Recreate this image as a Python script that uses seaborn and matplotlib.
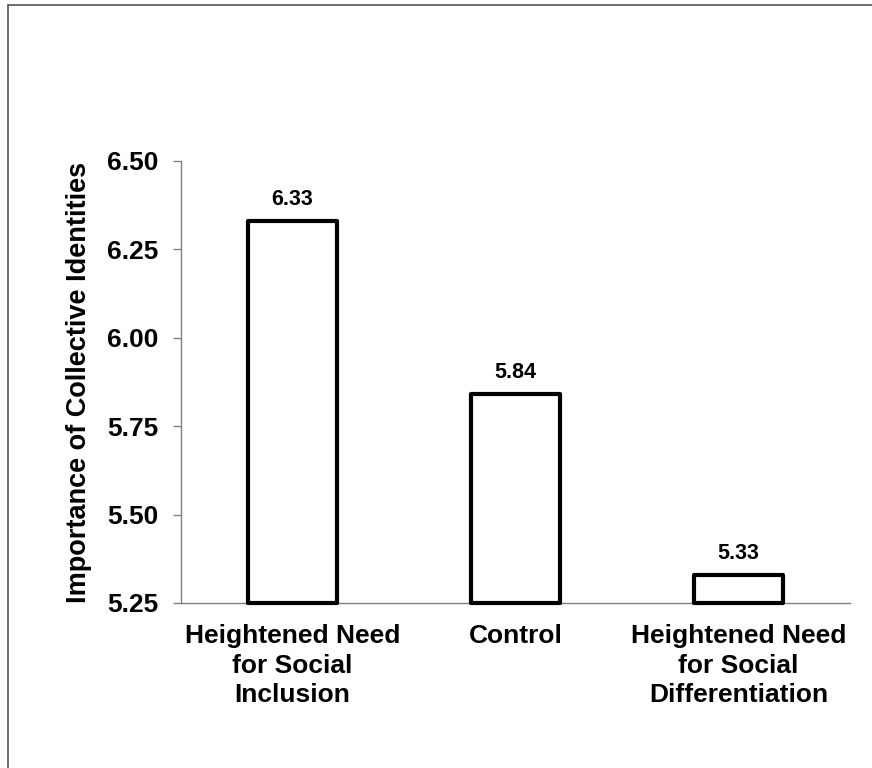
import matplotlib
matplotlib.use("Agg")
import matplotlib.pyplot as plt
import seaborn as sns
import pandas as pd
from matplotlib.lines import Line2D
from matplotlib.ticker import FixedLocator

# data
conditions = ["Heightened Need\nfor Social\nInclusion", "Control",
              "Heightened Need\nfor Social\nDifferentiation"]
means = [6.33, 5.84, 5.33]
y_ticks = [5.25, 5.50, 5.75, 6.00, 6.25, 6.50]
y_label = "Importance of Collective Identities"

sns.set_style("white")
plt.rcParams['font.family'] = ['Liberation Sans', 'DejaVu Sans']
plt.rcParams['font.weight'] = 'bold'
plt.rcParams['text.color'] = 'black'
plt.rcParams['axes.labelcolor'] = 'black'
plt.rcParams['xtick.labelcolor'] = 'black'
plt.rcParams['ytick.labelcolor'] = 'black'

df = pd.DataFrame({'condition': conditions, 'mean': means})

fig = plt.figure(figsize=(8.72, 7.68), dpi=100)
ax = fig.add_axes([181/872, 1 - 603/768, (850 - 181)/872, (603 - 161)/768])

sns.barplot(x='condition', y='mean', data=df, ax=ax, color='white',
            edgecolor='black', linewidth=3, width=0.4, zorder=3)
for p in ax.patches:
    p.set_joinstyle('round')
    # bars start at the bottom of the axis, not at 0
    p.set_y(y_ticks[0])
    p.set_height(p.get_height() - y_ticks[0])
    p.set_clip_on(False)

for i, m in enumerate(means):
    ax.annotate(f"{m:.2f}", (i, m), xytext=(0, 8), textcoords='offset points',
                ha='center', va='bottom', fontsize=15.5, fontweight='bold', color='black')

ax.set_ylim(y_ticks[0], y_ticks[-1])
ax.set_xlim(-0.5, len(conditions) - 0.5)
ax.set_yticks(y_ticks)
ax.set_yticklabels([f"{t:.2f}" for t in y_ticks], fontsize=19, fontweight='bold')
ax.set_xticks(range(len(conditions)))
ax.set_xticklabels(conditions, fontsize=19, fontweight='bold', linespacing=1.3)
ax.xaxis.set_minor_locator(FixedLocator([-0.5, 0.5, 1.5, 2.5]))
ax.tick_params(axis='x', which='major', length=0, pad=15)
ax.tick_params(axis='x', which='minor', length=6, width=1, color='#808080', direction='out')
ax.tick_params(axis='y', length=6, width=1, color='#808080', direction='out', pad=10, left=True)
ax.set_ylabel(y_label, fontsize=19.5, fontweight='bold', labelpad=11)
ax.set_xlabel("")

sns.despine(ax=ax)
for s in ['left', 'bottom']:
    ax.spines[s].set_color('#808080')
    ax.spines[s].set_linewidth(1)

# outer frame (top and left edges are visible in the reference)
fig.add_artist(Line2D([8/872, 8/872], [0, 1 - 5/768], color='#555555', lw=1.2))
fig.add_artist(Line2D([8/872, 1], [1 - 5/768, 1 - 5/768], color='#555555', lw=1.2))

fig.savefig('out.png', dpi=100, facecolor='white')
